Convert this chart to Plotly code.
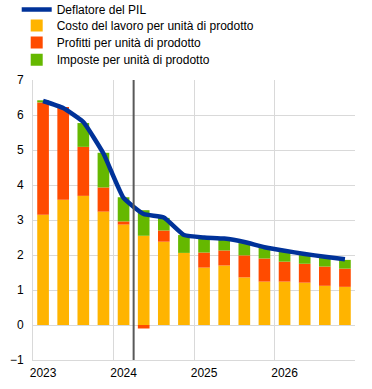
import plotly.graph_objects as go

quarters = ["2023Q1", "2023Q2", "2023Q3", "2023Q4",
            "2024Q1", "2024Q2", "2024Q3", "2024Q4",
            "2025Q1", "2025Q2", "2025Q3", "2025Q4",
            "2026Q1", "2026Q2", "2026Q3", "2026Q4"]
year_labels = ["2023", "2024", "2025", "2026"]

deflator = [6.40, 6.20, 5.80, 4.90, 3.63, 3.17, 3.07, 2.57,
            2.50, 2.47, 2.37, 2.22, 2.12, 2.03, 1.95, 1.88]
labour = [3.15, 3.58, 3.69, 3.24, 2.87, 2.55, 2.38, 2.06,
          1.64, 1.70, 1.36, 1.24, 1.24, 1.21, 1.12, 1.09]
profits = [3.21, 2.65, 1.40, 0.69, 0.09, -0.10, 0.32, 0.00,
           0.43, 0.43, 0.63, 0.66, 0.57, 0.54, 0.55, 0.52]
taxes = [0.06, 0.00, 0.68, 0.99, 0.69, 0.73, 0.36, 0.51,
         0.43, 0.33, 0.35, 0.31, 0.29, 0.25, 0.26, 0.25]

x = list(range(len(quarters)))
year_pos = [i for i, q in enumerate(quarters) if q.endswith("Q1")]
projection_start = 4.5  # boundary between 2024Q1 and 2024Q2

NAVY = "#003299"
YELLOW = "#FFB400"
RED = "#FF4B00"
GREEN = "#65B800"
GRID = "#D9D9D9"

fig = go.Figure()
fig.add_trace(go.Scatter(x=x, y=deflator, name="Deflatore del PIL", mode="lines",
                         line=dict(color=NAVY, width=4.5, shape="spline", smoothing=0.4),
                         hovertext=quarters, legend="legend"))
bar_w = 0.58
fig.add_trace(go.Bar(x=x, y=labour, name="Costo del lavoro per unità di prodotto",
                     marker=dict(color=YELLOW, line=dict(width=0)), width=bar_w,
                     legend="legend2"))
fig.add_trace(go.Bar(x=x, y=profits, name="Profitti per unità di prodotto",
                     marker=dict(color=RED, line=dict(width=0)), width=bar_w,
                     legend="legend3"))
fig.add_trace(go.Bar(x=x, y=taxes, name="Imposte per unità di prodotto",
                     marker=dict(color=GREEN, line=dict(width=0)), width=bar_w,
                     legend="legend4"))

fig.add_shape(type="line", xref="x", yref="paper", x0=projection_start, x1=projection_start,
              y0=0, y1=1, line=dict(color="#595959", width=2), layer="above")

LEG_X = -0.0506


def leg(ypos):
    return dict(x=LEG_X, y=ypos, xanchor="left", yanchor="middle",
                bgcolor="rgba(0,0,0,0)", font=dict(size=12), itemwidth=30)


fig.update_layout(
    width=372, height=389,
    barmode="relative",
    plot_bgcolor="white", paper_bgcolor="white",
    margin=dict(l=33, r=17, t=80, b=29, autoexpand=False),
    font=dict(family="Arial, Liberation Sans, sans-serif", size=12, color="#000000"),
    showlegend=True,
    legend=leg(1.2518),
    legend2=leg(1.1946),
    legend3=leg(1.1339),
    legend4=leg(1.0721),
    xaxis=dict(range=[-0.5, 15.5], tickmode="array", tickvals=year_pos, ticktext=year_labels,
               showgrid=False, zeroline=False, showline=True, linecolor=GRID, linewidth=1,
               ticks="outside", ticklen=2, tickcolor="rgba(0,0,0,0)",
               minor=dict(tickmode="linear", tick0=-0.5, dtick=4, showgrid=True,
                          gridcolor=GRID, gridwidth=1, ticks="")),
    yaxis=dict(range=[-1, 7], dtick=1, showgrid=True, gridcolor=GRID, gridwidth=1,
               zeroline=False, showline=True, linecolor=GRID, linewidth=1,
               ticks="outside", ticklen=6, tickcolor="rgba(0,0,0,0)"),
)

# remove the browser's default 8px body margin so the figure fills the window exactly
fig.write_html("out.html",
               config={"displayModeBar": False},
               post_script="document.body.style.margin='0';document.body.style.overflow='hidden';")
